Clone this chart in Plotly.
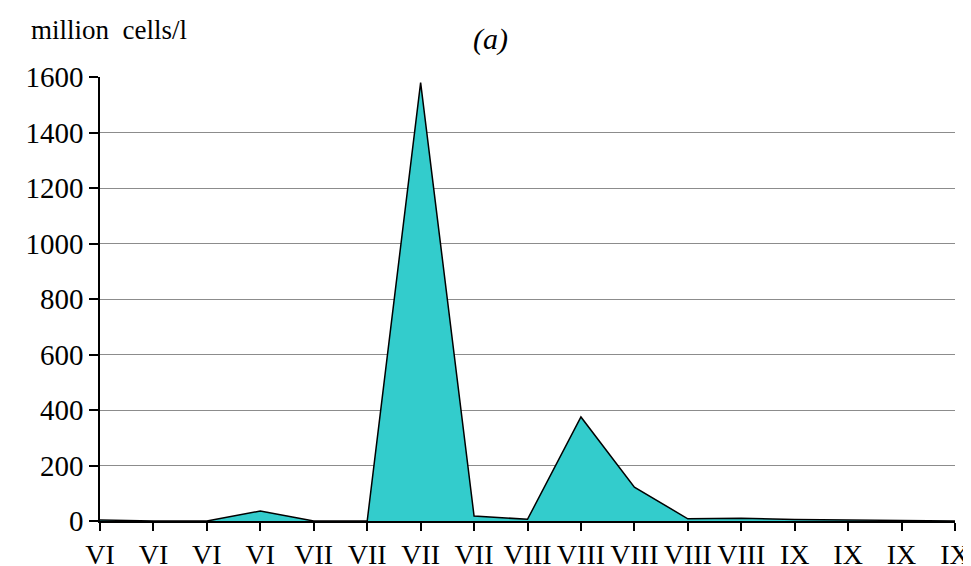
import plotly.graph_objects as go

categories = ["VI", "VI", "VI", "VI", "VII", "VII", "VII", "VII", "VIII", "VIII",
              "VIII", "VIII", "VIII", "IX", "IX", "IX", "IX"]
values = [4, 0, 0, 36, 0, 0, 1580, 18, 6, 375, 122, 8, 10, 5, 4, 3, 0]
y_ticks = [0, 200, 400, 600, 800, 1000, 1200, 1400, 1600]

x = list(range(len(categories)))

fig = go.Figure()
fig.add_trace(go.Scatter(
    x=x, y=values, mode="lines", fill="tozeroy",
    fillcolor="#33CCCC", line=dict(color="black", width=1.5),
    hoverinfo="skip", showlegend=False))

SERIF = "Liberation Serif"
font = dict(family=SERIF, size=29, color="black")
xfont = dict(family=SERIF, size=28, color="black")

# page body has an 8px margin; margins are set so the plot area lands where the reference has it
fig.update_layout(
    width=971, height=566,
    margin=dict(l=92, r=24, t=69, b=53, autoexpand=False),
    paper_bgcolor="white", plot_bgcolor="white",
    font=font,
    xaxis=dict(range=[0, len(categories) - 1], tickmode="array", tickvals=x,
               ticktext=categories, showline=True, linecolor="black", linewidth=1.5,
               ticks="outside", ticklen=8, tickcolor="black", tickwidth=1.5,
               showgrid=False, zeroline=False, tickfont=xfont, automargin=False),
    yaxis=dict(range=[0, 1600], tickmode="array", tickvals=y_ticks,
               showline=True, linecolor="black", linewidth=1.5,
               ticks="outside", ticklen=9, tickcolor="black", tickwidth=1.5,
               showgrid=True, gridcolor="#8c8c8c", gridwidth=1.2,
               zeroline=False, tickfont=font, automargin=False),
    annotations=[
        dict(text="million  cells/l", xref="paper", yref="paper", x=-0.083, y=1.0,
             xanchor="left", yanchor="middle", yshift=47, showarrow=False,
             font=dict(family=SERIF, size=27, color="black")),
        dict(text="<i>(a)</i>", xref="paper", yref="paper", x=0.457, y=1.0,
             xanchor="center", yanchor="middle", yshift=38, showarrow=False,
             font=dict(family=SERIF, size=30, color="black")),
    ],
)

fig.write_html("out.html")
